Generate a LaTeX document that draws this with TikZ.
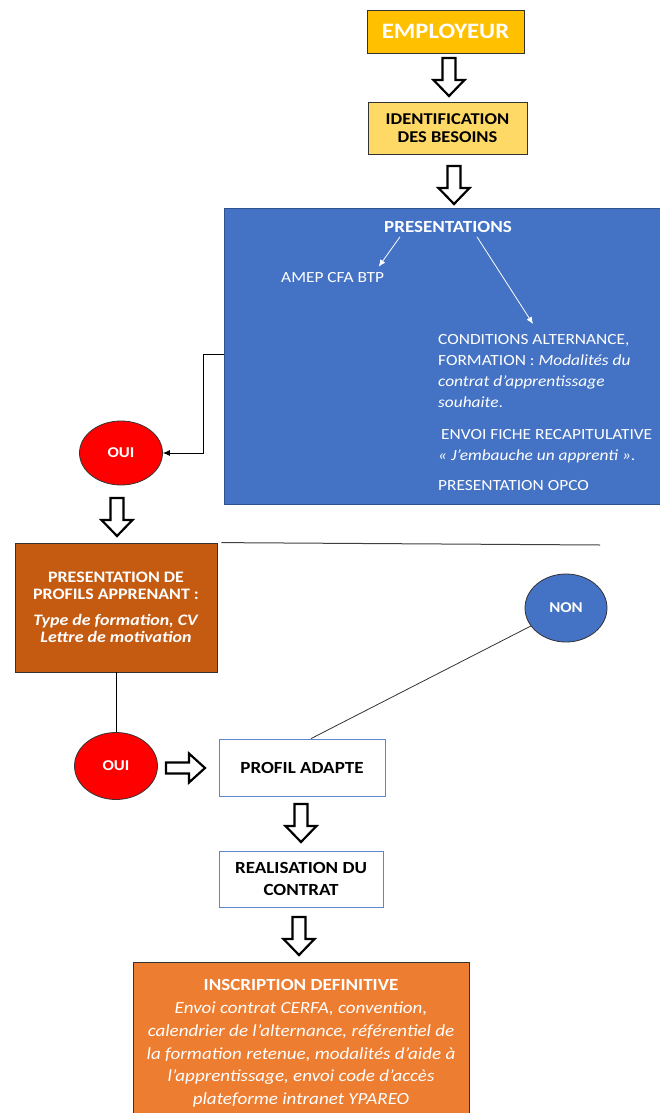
\documentclass[tikz,border=0pt]{standalone}
\usepackage{fontspec}
\setmainfont{Carlito}[FakeStretch=1.12]
\usetikzlibrary{arrows.meta, shapes.geometric}

\definecolor{gold}{HTML}{FFC000}
\definecolor{lightgold}{HTML}{FFD966}
\definecolor{deepblue}{HTML}{4472C4}
\definecolor{blueline}{HTML}{2F528F}
\definecolor{rust}{HTML}{C55A11}
\definecolor{tangerine}{HTML}{ED7D31}
\definecolor{boxblue}{HTML}{5B87D0}

\tikzset{
  pics/hollowdown/.style={code={
    \draw[line width=2.2pt, fill=white] (-6.5,1) -- (6.5,1) -- (6.5,23) -- (15.5,23) -- (0,39) -- (-15.5,23) -- (-6.5,23) -- cycle;}},
  pics/hollowright/.style={code={
    \draw[line width=2.2pt, fill=white] (1,-5.5) -- (24,-5.5) -- (24,-14.5) -- (40,0) -- (24,14.5) -- (24,5.5) -- (1,5.5) -- cycle;}},
  colbox/.style={draw=black!80, line width=0.8pt, inner sep=0pt, align=center},
  whitebox/.style={draw=boxblue, fill=white, line width=0.8pt, inner sep=0pt, align=center,
    font=\bfseries\fontsize{17}{22}\selectfont},
  bubble/.style={ellipse, draw=black!80, line width=0.8pt, inner sep=0pt, text=white,
    font=\bfseries\fontsize{15}{17}\selectfont},
  intext/.style={text=white, inner sep=0pt, font=\fontsize{15.5}{21}\selectfont},
  tip/.style={-{Latex[length=7pt,width=6pt]}}
}

\begin{document}
\begin{tikzpicture}[x=1pt, y=-1pt]
    \useasboundingbox (0,0) rectangle (660,1113);

    % employer and needs
    \node[colbox, fill=gold, minimum width=157, minimum height=43, text=white,
      font=\bfseries\fontsize{22}{26}\selectfont] (employeur) at (445.5,31.5) {EMPLOYEUR};
    \pic at (449,57) {hollowdown};
    \node[colbox, fill=lightgold, minimum width=159, minimum height=52,
      font=\bfseries\fontsize{16.5}{17.5}\selectfont] (besoins) at (447.5,128) {IDENTIFICATION\\DES BESOINS};
    \pic at (454,165) {hollowdown};

    % presentations block
    \node[draw=blueline, fill=deepblue, line width=0.8pt, minimum width=440, minimum height=296,
      inner sep=0pt] (pres) at (444,356) {};
    \node[intext, font=\bfseries\fontsize{17}{21}\selectfont] (prestitle) at (448,227) {PRESENTATIONS};
    \node[intext, anchor=west] (amep) at (281,278) {AMEP CFA BTP};
    \node[intext, anchor=north west, align=left] (cond) at (438,334) {%
      CONDITIONS ALTERNANCE,\\
      FORMATION : \textit{Modalités du}\\
      \textit{contrat d’apprentissage}\\
      \textit{souhaite}.\\[11pt]
      \hspace{3pt}ENVOI FICHE RECAPITULATIVE\\
      \textit{« J’embauche un apprenti »}.\\[9pt]
      PRESENTATION OPCO};
    \draw[white, line width=0.8pt, tip] ([xshift=-48,yshift=-4]prestitle.south) -- ([xshift=46,yshift=6]amep.north);
    \draw[white, line width=0.8pt, tip] ([xshift=29,yshift=-4]prestitle.south) -- ([xshift=95,yshift=10]cond.north west);

    % first answer
    \node[bubble, fill=red, minimum width=83, minimum height=64] (oui1) at (121,453) {OUI};
    \draw[line width=0.8pt, tip] ([yshift=2]pres.west) -- ++(-20,0) |- (oui1.east);
    \pic at (117,497) {hollowdown};

    % learner profiles
    \node[colbox, fill=rust, minimum width=202, minimum height=129, text=white,
      font=\bfseries\fontsize{16}{17.5}\selectfont] (profils) at (116,607.5)
      {PRESENTATION DE\\PROFILS APPRENANT :\\[8pt]\textit{Type de formation, CV}\\\textit{Lettre de motivation}};
    \coordinate (hline) at (600,545);
    \draw[black!75, line width=1pt] ([xshift=4]profils.north east) -- (hline);

    \node[bubble, fill=deepblue, minimum width=82, minimum height=68] (non) at (566,608) {NON};

    % second answer and contract
    \node[bubble, fill=red, minimum width=83, minimum height=67] (oui2) at (116,766) {OUI};
    \draw[line width=0.8pt] (profils.south) -- (oui2.north);
    \pic at (165,768) {hollowright};
    \node[whitebox, minimum width=166, minimum height=57] (profil) at (302,767.5) {PROFIL ADAPTE};
    \draw[black!80, line width=0.8pt] (non) -- ([xshift=9]profil.north);
    \pic at (301,803) {hollowdown};
    \node[whitebox, minimum width=164, minimum height=56] (contrat) at (301,879) {REALISATION DU\\CONTRAT};
    \pic at (299,916) {hollowdown};

    % final enrolment
    \node[colbox, fill=tangerine, minimum width=336, minimum height=163, text=white,
      font=\fontsize{17}{22.7}\selectfont] (inscription) at (301,1043.5)
      {\textbf{INSCRIPTION DEFINITIVE}\\
      \textit{Envoi contrat CERFA, convention,}\\
      \textit{calendrier de l’alternance, référentiel de}\\
      \textit{la formation retenue, modalités d’aide à}\\
      \textit{l’apprentissage, envoi code d’accès}\\
      \textit{plateforme intranet YPAREO}};
\end{tikzpicture}
\end{document}
